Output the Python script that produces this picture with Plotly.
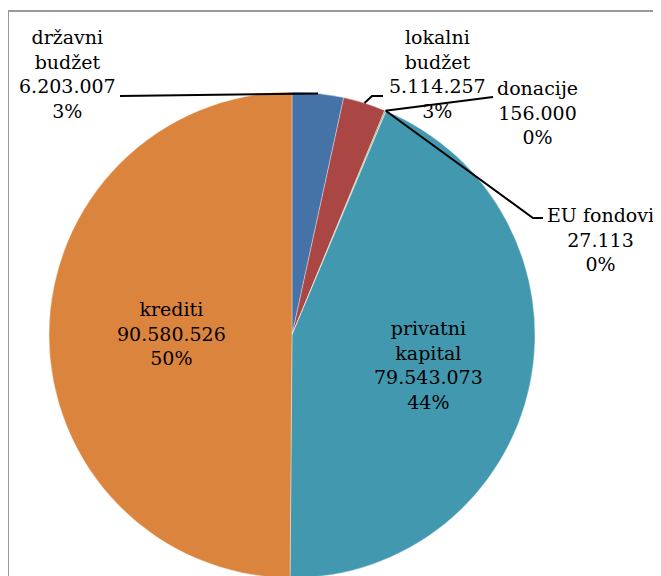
import math
import plotly.graph_objects as go

categories = ["državni budžet", "lokalni budžet", "donacije", "EU fondovi", "privatni kapital", "krediti"]
values = [6203007, 5114257, 156000, 27113, 79543073, 90580526]
label_lines = [["državni", "budžet"], ["lokalni", "budžet"], ["donacije"], ["EU fondovi"], ["privatni", "kapital"], ["krediti"]]
colors = ["#4572A7", "#AA4643", "#89A54E", "#71588F", "#4198AF", "#DB843D"]

W, H = 661, 576
OFF = 8  # default page body margin
CX, CY, R = 292, 335, 243  # page pixel coordinates

def fmt(v):
    return f"{v:,}".replace(",", ".")

total = sum(values)
pct = [v / total * 100 for v in values]

def px(x):
    return (x - OFF) / W

def py(y):
    return 1 - (y - OFF) / H

fig = go.Figure(go.Pie(
    labels=categories, values=values, sort=False, direction="clockwise", rotation=0,
    marker=dict(colors=colors, line=dict(color="rgba(255,255,255,0.6)", width=0.6)),
    textinfo="none", hoverinfo="label+value+percent", showlegend=False,
    domain=dict(x=[px(CX - R), px(CX + R)], y=[py(CY + R), py(CY - R)]),
))

# label centre positions (page pixels) and leader line elbow/end points
label_pos = [(67, 74), (437, 74), (537, 113), (600, 239), (428, 365), (171, 333)]
leaders = {0: [(120, 96)], 1: [(372, 96), (383, 96)], 2: [(493, 97)], 3: [(533, 218), (543, 218)]}

annotations = []
shapes = []
cum = 0
for i, v in enumerate(values):
    mid = (cum + v / 2) / total
    cum += v
    ang = 2 * math.pi * mid
    ex, ey = CX + R * math.sin(ang), CY - R * math.cos(ang)
    text = "<br>".join(label_lines[i] + [fmt(v), f"{round(pct[i])}%"])
    lx, ly = label_pos[i]
    annotations.append(dict(x=px(lx), y=py(ly), xref="paper", yref="paper", text=text,
                            showarrow=False, xanchor="center", yanchor="middle",
                            font=dict(family="DejaVu Serif", size=19, color="#000")))
    if i in leaders:
        pts = [(ex, ey)] + leaders[i]
        path = "M " + " L ".join(f"{px(x)},{py(y)}" for x, y in pts)
        shapes.append(dict(type="path", xref="paper", yref="paper", path=path,
                           line=dict(color="black", width=2)))

shapes.append(dict(type="rect", xref="paper", yref="paper", x0=px(8), y0=py(700), x1=px(800), y1=py(11),
                   line=dict(color="#999999", width=2), layer="below"))

fig.update_layout(width=W, height=H, margin=dict(l=0, r=0, t=0, b=0),
                  paper_bgcolor="white", plot_bgcolor="white",
                  annotations=annotations, shapes=shapes)

fig.write_html("out.html")
